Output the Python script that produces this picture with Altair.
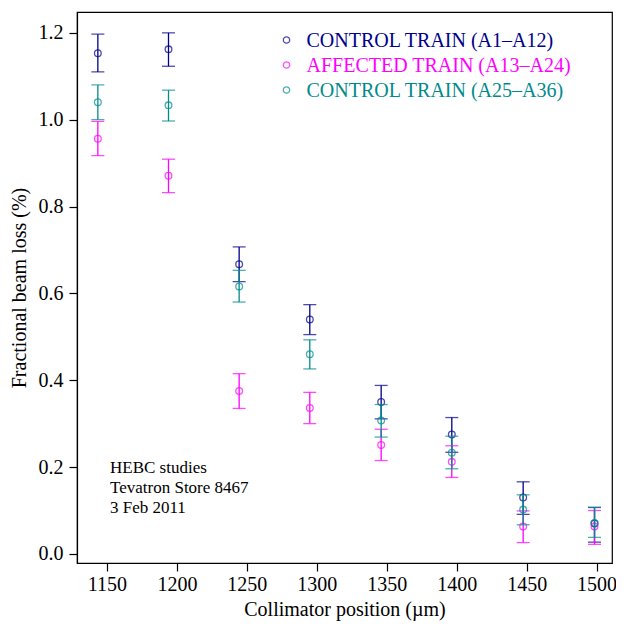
import altair as alt
import pandas as pd

# ---- data ----
positions = [1143.5, 1194, 1244.5, 1295, 1346, 1396.5, 1447.5, 1498.5]
series = ["CONTROL TRAIN (A1\u2013A12)", "AFFECTED TRAIN (A13\u2013A24)", "CONTROL TRAIN (A25\u2013A36)"]
colors = ["#00008B", "#FF00FF", "#008B8B"]

ctrl1_val = [1.153, 1.162, 0.667, 0.540, 0.350, 0.275, 0.130, 0.070]
ctrl1_hi  = [1.197, 1.200, 0.707, 0.574, 0.388, 0.314, 0.166, 0.107]
ctrl1_lo  = [1.110, 1.123, 0.627, 0.505, 0.311, 0.234, 0.091, 0.027]

aff_val = [0.956, 0.871, 0.375, 0.336, 0.251, 0.212, 0.063, 0.063]
aff_hi  = [0.996, 0.909, 0.415, 0.372, 0.287, 0.249, 0.099, 0.100]
aff_lo  = [0.917, 0.832, 0.335, 0.300, 0.215, 0.176, 0.026, 0.022]

ctrl2_val = [1.040, 1.033, 0.616, 0.460, 0.307, 0.233, 0.102, 0.071]
ctrl2_hi  = [1.080, 1.068, 0.653, 0.493, 0.344, 0.271, 0.136, 0.107]
ctrl2_lo  = [1.000, 0.997, 0.580, 0.426, 0.269, 0.196, 0.067, 0.038]

x_ticks = [1150, 1200, 1250, 1300, 1350, 1400, 1450, 1500]
y_ticks = [0.0, 0.2, 0.4, 0.6, 0.8, 1.0, 1.2]
note_lines = ["HEBC studies", "Tevatron Store 8467", "3 Feb 2011"]

FONT = "Liberation Serif"

rows = []
for s, v, hi, lo in zip(series, [ctrl1_val, aff_val, ctrl2_val],
                        [ctrl1_hi, aff_hi, ctrl2_hi], [ctrl1_lo, aff_lo, ctrl2_lo]):
    for xp, a, b, c in zip(positions, v, hi, lo):
        rows.append({"series": s, "pos": xp, "val": a, "hi": b, "lo": c})
df = pd.DataFrame(rows)

xscale = alt.Scale(domain=[1128.6, 1511.0], nice=False, zero=False)
yscale = alt.Scale(domain=[-0.021, 1.248], nice=False, zero=False)

xenc = alt.X("pos:Q", scale=xscale,
             axis=alt.Axis(values=x_ticks, title="Collimator position (\u00b5m)", format="d",
                           grid=False, tickSize=8, labelPadding=3, titlePadding=5,
                           labelFlush=False))
yenc = alt.Y("val:Q", scale=yscale,
             axis=alt.Axis(values=y_ticks, title="Fractional beam loss (%)", format=".1f",
                           grid=False, tickSize=8, labelPadding=6, titlePadding=9,
                           labelFlush=False))

layers = []
for s in series:
    sub = df[df.series == s]
    base = alt.Chart(sub)
    col = colors[series.index(s)]
    rule = base.mark_rule(color=col, strokeWidth=1.3).encode(
        x=xenc, y=alt.Y("lo:Q", scale=yscale), y2="hi:Q")
    cap_hi = base.mark_tick(color=col, orient="horizontal", size=13, thickness=1.3).encode(
        x=xenc, y=alt.Y("hi:Q", scale=yscale))
    cap_lo = base.mark_tick(color=col, orient="horizontal", size=13, thickness=1.3).encode(
        x=xenc, y=alt.Y("lo:Q", scale=yscale))
    pts = base.mark_point(shape="circle", filled=False, size=45, strokeWidth=1.3, color=col).encode(
        x=xenc, y=yenc)
    layers += [rule, cap_hi, cap_lo, pts]

# legend (drawn manually at pixel positions inside the plot)
legend_y = [28, 53, 78]
for s, col, ly in zip(series, colors, legend_y):
    ldf = pd.DataFrame({"label": [s]})
    layers.append(alt.Chart(ldf).mark_point(shape="circle", filled=False, size=40,
                                             strokeWidth=1.3, color=col).encode(
        x=alt.value(209.5), y=alt.value(ly)))
    layers.append(alt.Chart(ldf).mark_text(align="left", baseline="middle", font=FONT,
                                            fontSize=20, color=col, dy=1).encode(
        x=alt.value(229.5), y=alt.value(ly), text="label:N"))

# annotation
for i, line in enumerate(note_lines):
    ndf = pd.DataFrame({"t": [line]})
    layers.append(alt.Chart(ndf).mark_text(align="left", baseline="middle", font=FONT,
                                            fontSize=17, color="black").encode(
        x=alt.value(33), y=alt.value(456 + 20 * i), text="t:N"))

chart = alt.layer(*layers).properties(
    width=535, height=551,
    autosize=alt.AutoSizeParams(type="none"),
    padding={"left": 69, "top": 4, "right": 4, "bottom": 58},
).configure_view(
    stroke="black", strokeWidth=1.2
).configure_axis(
    labelFont=FONT, titleFont=FONT, labelFontSize=20, titleFontSize=20,
    labelColor="black", titleColor="black", titleFontWeight="normal",
    domainColor="black", tickColor="black", domainWidth=1.2, tickWidth=1.2,
).configure_axisY(
    labelAngle=0
)

chart.save("out.html", embed_options={"renderer": "svg", "actions": False})
